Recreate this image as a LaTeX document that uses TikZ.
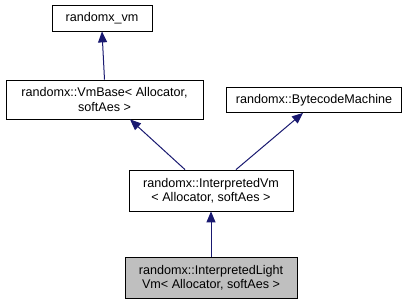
\documentclass[tikz,border=0pt]{standalone}
\usepackage{fontspec}
\setmainfont{Liberation Sans}
\usetikzlibrary{arrows.meta,calc}
\definecolor{edgeblue}{HTML}{191970}
\definecolor{hilite}{HTML}{BFBFBF}
\begin{document}
\begin{tikzpicture}[x=1pt,y=-1pt,
  cls/.style={draw=black,fill=white,line width=0.8pt,inner sep=0pt,align=center,
    font=\fontsize{12.6}{14.5}\selectfont},
  inherit/.style={draw=edgeblue,line width=1pt,-{Triangle[length=11pt,width=9pt,fill=edgeblue]}}]
\useasboundingbox (0,0) rectangle (416,305);
\node[cls,minimum width=100pt,minimum height=26pt] (vm) at (102,18) {randomx\_vm};
\node[cls,minimum width=197pt,minimum height=39pt] (vmbase) at (104.5,99.5)
  {randomx::VmBase\textless{} Allocator,\\softAes \textgreater};
\node[cls,minimum width=175pt,minimum height=25pt] (bytecode) at (314,100) {randomx::BytecodeMachine};
\node[cls,minimum width=164pt,minimum height=41pt] (interp) at (211,190.5)
  {randomx::InterpretedVm\\\textless{} Allocator, softAes \textgreater};
\node[cls,fill=hilite,minimum width=172pt,minimum height=41pt] (light) at (211,277.5)
  {randomx::InterpretedLight\\Vm\textless{} Allocator, softAes \textgreater};
\draw[inherit] (vmbase.north) -- (vm.south);
\draw[inherit] ($(interp.north)+(-26,0)$) -- ($(vmbase.south)+(25.5,0)$);
\draw[inherit] ($(interp.north)+(25,0)$) -- ($(bytecode.south)+(-11,0)$);
\draw[inherit] (light.north) -- (interp.south);
\end{tikzpicture}
\end{document}
